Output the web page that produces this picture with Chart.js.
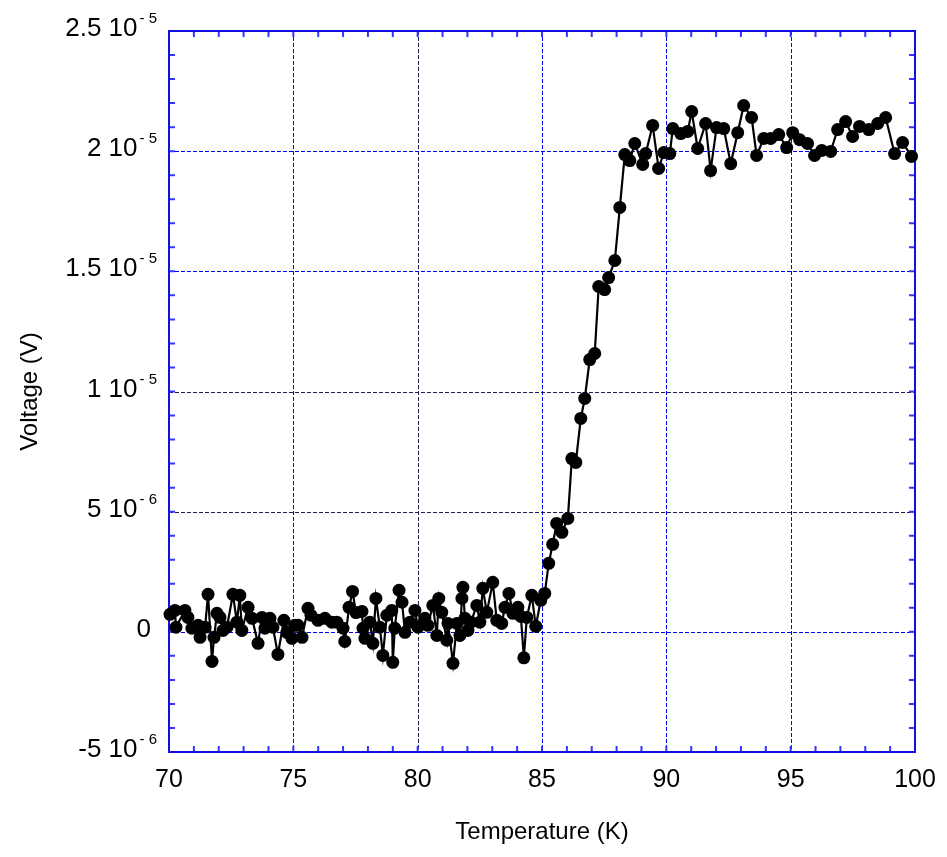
<!DOCTYPE html>
<html>
<head>
<meta charset="utf-8">
<script src="https://cdn.jsdelivr.net/npm/chart.js@4.4.1/dist/chart.umd.min.js"></script>
<style>
  html, body { margin: 0; padding: 0; background: #fff; }
  canvas { display: block; }
</style>
</head>
<body>
<canvas id="chart" width="947" height="857"></canvas>
<script>
// ================= DATA =================
const temperatureK = [
  70.04, 70.24, 70.28, 70.64, 70.76, 70.92, 71.17, 71.25, 71.45, 71.57,
  71.73, 71.81, 71.93, 72.05, 72.17, 72.33, 72.57, 72.73, 72.85, 72.93,
  73.18, 73.34, 73.58, 73.74, 73.86, 74.06, 74.18, 74.38, 74.62, 74.74,
  74.94, 75.06, 75.19, 75.35, 75.59, 75.71, 75.99, 76.27, 76.55, 76.75,
  77.00, 77.07, 77.24, 77.38, 77.52, 77.76, 77.80, 77.88, 78.08, 78.20,
  78.32, 78.48, 78.60, 78.76, 78.96, 79.00, 79.08, 79.25, 79.37, 79.49,
  79.69, 79.89, 80.01, 80.29, 80.41, 80.61, 80.77, 80.85, 80.97, 81.17,
  81.22, 81.42, 81.58, 81.70, 81.78, 81.82, 81.90, 82.02, 82.14, 82.38,
  82.50, 82.62, 82.78, 83.02, 83.18, 83.38, 83.51, 83.67, 83.83, 84.03,
  84.15, 84.27, 84.39, 84.59, 84.75, 84.95, 85.11, 85.27, 85.43, 85.59,
  85.80, 86.04, 86.20, 86.36, 86.56, 86.72, 86.92, 87.12, 87.28, 87.52,
  87.68, 87.93, 88.13, 88.33, 88.53, 88.73, 89.05, 89.17, 89.45, 89.69,
  89.90, 90.14, 90.26, 90.58, 90.86, 91.02, 91.26, 91.58, 91.78, 92.02,
  92.31, 92.59, 92.87, 93.11, 93.43, 93.63, 93.92, 94.20, 94.52, 94.84,
  95.08, 95.36, 95.68, 95.96, 96.25, 96.61, 96.89, 97.21, 97.49, 97.77,
  98.14, 98.50, 98.82, 99.18, 99.50, 99.86
];

// voltage in units of 1e-6 V
const voltageMicro = [
  0.73, 0.89, 0.19, 0.89, 0.60, 0.15, 0.27, -0.23, 0.19, 1.56,
  -1.23, -0.23, 0.77, 0.60, 0.06, 0.19, 1.56, 0.40, 1.52, 0.06,
  1.02, 0.56, -0.48, 0.60, 0.15, 0.56, 0.19, -0.94, 0.48, -0.02,
  -0.27, 0.27, 0.27, -0.23, 0.98, 0.69, 0.48, 0.56, 0.40, 0.40,
  0.15, -0.40, 1.02, 1.68, 0.80, 0.85, 0.15, -0.27, 0.40, -0.48,
  1.39, 0.19, -0.98, 0.69, 0.89, -1.27, 0.15, 1.73, 1.23, -0.02,
  0.40, 0.89, 0.19, 0.56, 0.27, 1.10, -0.15, 1.39, 0.81, -0.35,
  0.35, -1.31, 0.35, -0.15, 1.39, 1.85, 0.56, 0.06, 0.40, 1.10,
  0.40, 1.81, 0.81, 2.06, 0.48, 0.35, 1.02, 1.60, 0.77, 1.02,
  0.64, -1.08, 0.60, 1.52, 0.23, 1.31, 1.60, 2.85, 3.64, 4.51,
  4.14, 4.72, 7.21, 7.05, 8.88, 9.71, 11.33, 11.58, 14.37, 14.24,
  14.74, 15.45, 17.66, 19.86, 19.61, 20.32, 19.45, 19.90, 21.07, 19.28,
  19.94, 19.90, 20.94, 20.73, 20.82, 21.65, 20.11, 21.15, 19.19, 20.98,
  20.94, 19.48, 20.77, 21.90, 21.40, 19.82, 20.53, 20.53, 20.69, 20.15,
  20.77, 20.48, 20.32, 19.82, 20.03, 19.99, 20.90, 21.23, 20.61, 21.03,
  20.90, 21.15, 21.40, 19.90, 20.36, 19.78
];

const xTicks = [70, 75, 80, 85, 90, 95, 100];
const yTicks = [-5, 0, 5, 10, 15, 20, 25];
const yTickMantissa = ['-5', '0', '5', '1', '1.5', '2', '2.5'];
const yTickExponent = ['- 6', '', '- 6', '- 5', '- 5', '- 5', '- 5'];

// gridlines that come out dark instead of blue
const darkXGrid = [75, 80, 95];
const darkYGrid = [5, 10];

// ================= STYLE =================
const FONT = '"Liberation Sans", Arial, Helvetica, sans-serif';
const FRAME = '#1010e0';
const TICK = '#3535ff';
const GRID_BLUE = '#0000ff';
const GRID_DARK = '#1c1c50';

// dashed grid, frame, inward minor ticks, tick labels and axis titles
const frameAndLabels = {
  id: 'frameAndLabels',
  beforeDatasetsDraw(chart) {
    const { ctx, chartArea: a, scales: { x, y } } = chart;
    ctx.save();

    // dashed major grid at the scale ticks
    ctx.lineWidth = 1;
    ctx.setLineDash([4, 2]);
    x.ticks.forEach(tk => {
      const px = Math.round(x.getPixelForValue(tk.value)) + 0.5;
      ctx.strokeStyle = darkXGrid.includes(tk.value) ? GRID_DARK : GRID_BLUE;
      ctx.beginPath();
      ctx.moveTo(px, a.top); ctx.lineTo(px, a.bottom);
      ctx.stroke();
    });
    y.ticks.forEach(tk => {
      const py = Math.round(y.getPixelForValue(tk.value)) + 0.5;
      ctx.strokeStyle = darkYGrid.includes(tk.value) ? GRID_DARK : GRID_BLUE;
      ctx.beginPath();
      ctx.moveTo(a.left, py); ctx.lineTo(a.right, py);
      ctx.stroke();
    });
    ctx.setLineDash([]);

    // minor ticks pointing inward on all four sides
    ctx.strokeStyle = TICK;
    ctx.lineWidth = 2;
    ctx.beginPath();
    for (let t = 70; t <= 100; t++) {
      const px = x.getPixelForValue(t);
      ctx.moveTo(px, a.bottom); ctx.lineTo(px, a.bottom - 6);
      ctx.moveTo(px, a.top); ctx.lineTo(px, a.top + 6);
    }
    for (let v = -5; v <= 25; v++) {
      const py = y.getPixelForValue(v);
      ctx.moveTo(a.left, py); ctx.lineTo(a.left + 6, py);
      ctx.moveTo(a.right, py); ctx.lineTo(a.right - 6, py);
    }
    ctx.stroke();
    ctx.strokeStyle = FRAME;
    ctx.lineWidth = 2;
    ctx.strokeRect(a.left, a.top, a.right - a.left, a.bottom - a.top);
    ctx.restore();
  },
  afterDraw(chart) {
    const { ctx, chartArea: a, scales: { x, y } } = chart;
    ctx.save();
    ctx.fillStyle = '#000';

    // x tick labels
    ctx.font = '25px ' + FONT;
    ctx.textAlign = 'center';
    ctx.textBaseline = 'alphabetic';
    xTicks.forEach(t => {
      ctx.fillText(String(t), x.getPixelForValue(t), a.bottom + 35);
    });

    // y tick labels: mantissa, "10", raised exponent
    const rightEdge = a.left - 12;
    yTicks.forEach((v, i) => {
      const base = y.getPixelForValue(v) + 5;
      const exp = yTickExponent[i];
      if (!exp) {
        ctx.font = '26px ' + FONT;
        ctx.textAlign = 'right';
        ctx.fillText(yTickMantissa[i], rightEdge - 6, base);
        return;
      }
      ctx.font = '15px ' + FONT;
      ctx.textAlign = 'right';
      ctx.fillText(exp, rightEdge, base - 13);
      const expW = ctx.measureText(exp).width;
      ctx.font = '26px ' + FONT;
      ctx.fillText(yTickMantissa[i] + ' 10', rightEdge - expW - 2, base);
    });

    // axis titles
    ctx.font = '24px ' + FONT;
    ctx.textAlign = 'center';
    ctx.textBaseline = 'middle';
    ctx.fillText('Temperature (K)', (a.left + a.right) / 2, 832);
    ctx.translate(30, (a.top + a.bottom) / 2);
    ctx.rotate(-Math.PI / 2);
    ctx.fillText('Voltage (V)', 0, 0);
    ctx.restore();
  }
};

const points = temperatureK.map((t, i) => ({ x: t, y: voltageMicro[i] }));

new Chart(document.getElementById('chart'), {
  type: 'scatter',
  data: {
    datasets: [{
      data: points,
      showLine: true,
      borderColor: '#000',
      borderWidth: 2.2,
      pointRadius: 6.5,
      pointBackgroundColor: '#000',
      pointBorderWidth: 0,
      clip: false
    }]
  },
  options: {
    responsive: false,
    animation: false,
    devicePixelRatio: 1,
    layout: { padding: { left: 169, right: 32, top: 31, bottom: 105 } },
    plugins: { legend: { display: false }, tooltip: { enabled: false } },
    scales: {
      x: {
        type: 'linear',
        min: 70,
        max: 100,
        ticks: { display: false, stepSize: 5 },
        grid: { display: false, drawTicks: false },
        border: { display: false }
      },
      y: {
        type: 'linear',
        min: -5,
        max: 25,
        ticks: { display: false, stepSize: 5 },
        grid: { display: false, drawTicks: false },
        border: { display: false }
      }
    }
  },
  plugins: [frameAndLabels]
});
</script>
</body>
</html>
